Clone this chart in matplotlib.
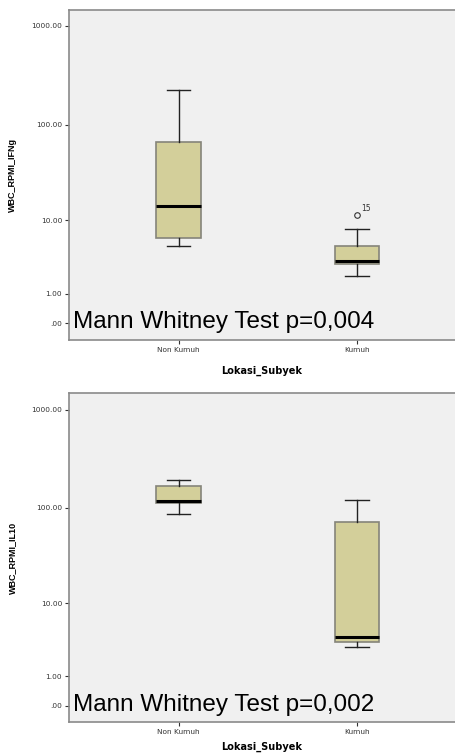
import numpy as np
import matplotlib
matplotlib.use("Agg")
import matplotlib.pyplot as plt

categories = ["Non Kumuh", "Kumuh"]

# Box statistics: (whisker_low, q1, median, q3, whisker_high)
ifng_stats = {
    "Non Kumuh": (4.98, 6.21, 14.27, 66.0, 223.4),
    "Kumuh": (2.0, 2.99, 3.25, 4.98, 7.94),
}
ifng_outliers = {"Non Kumuh": [], "Kumuh": [11.4]}
ifng_outlier_labels = {"Kumuh": ["15"]}

il10_stats = {
    "Non Kumuh": (87.5, 113.5, 117.2, 167.9, 191.9),
    "Kumuh": (2.99, 3.48, 4.0, 71.4, 121.7),
}
il10_outliers = {"Non Kumuh": [], "Kumuh": []}

ytick_values = [0, 1, 10, 100, 1000]
ytick_labels = [".00", "1.00", "10.00", "100.00", "1000.00"]

panel_ylabels = ["WBC_RPMI_IFNg", "WBC_RPMI_IL10"]
panel_texts = ["Mann Whitney Test p=0,004", "Mann Whitney Test p=0,002"]
xlabel = "Lokasi_Subyek"

BG = "#f0f0f0"
FILL = "#d3cf9a"
EDGE = "#85847a"
SPINE = "#8a8a8a"

fwd = lambda v: np.log10(1 + np.clip(v, -0.999, None))
inv = lambda t: 10 ** t - 1

fig = plt.figure(figsize=(4.55, 7.53), dpi=100)
plt.rcParams["font.family"] = ["Liberation Sans", "DejaVu Sans"]

axes_rects = [
    [69 / 455, 1 - 340 / 753, 1 - 69 / 455, 330 / 753],
    [69 / 455, 1 - 722.3 / 753, 1 - 69 / 455, 329 / 753],
]
ylims_t = [(-0.168, 3.161), (-0.165, 3.165)]
xlabel_pads = [9, 5]

def draw_panel(ax, stats, outliers, ylabel, text, outlier_labels=None,
               ylim_t=(-0.168, 3.161), xpad=9):
    ax.set_facecolor(BG)
    ax.set_yscale("function", functions=(fwd, inv))
    bxp = []
    for c in categories:
        wl, q1, med, q3, wh = stats[c]
        bxp.append(dict(label=c, whislo=wl, q1=q1, med=med, q3=q3, whishi=wh,
                        fliers=outliers.get(c, [])))
    ax.bxp(bxp, positions=range(len(categories)), widths=0.25, patch_artist=True,
           boxprops=dict(facecolor=FILL, edgecolor=EDGE, linewidth=1.2),
           medianprops=dict(color="black", linewidth=2.2),
           whiskerprops=dict(color="#222222", linewidth=1.0),
           capprops=dict(color="#222222", linewidth=1.0),
           capwidths=0.13,
           flierprops=dict(marker="o", markerfacecolor="none", markeredgecolor="#333333",
                           markersize=4, markeredgewidth=0.8))
    if outlier_labels:
        for c, labs in outlier_labels.items():
            i = categories.index(c)
            for v, lab in zip(outliers[c], labs):
                ax.annotate(lab, (i, v), xytext=(3, 3), textcoords="offset points",
                            fontsize=5.5, color="#333333", family="DejaVu Sans")
    ax.set_xlim(-0.615, 1.55)
    ax.set_ylim(inv(ylim_t[0]), inv(ylim_t[1]))
    ax.set_yticks(ytick_values)
    ax.set_yticklabels(ytick_labels, family="DejaVu Sans")
    ax.yaxis.set_minor_locator(matplotlib.ticker.NullLocator())
    ax.set_xticks(range(len(categories)))
    ax.set_xticklabels(categories, family="DejaVu Sans")
    ax.tick_params(axis="both", labelsize=5.3, colors="#333333", length=3, width=0.8,
                   labelcolor="#333333", pad=2)
    for s in ["left", "bottom", "top"]:
        ax.spines[s].set_color(SPINE)
        ax.spines[s].set_linewidth(1.2)
    ax.spines["right"].set_visible(False)
    ax.set_ylabel(ylabel, fontsize=6.5, fontweight="bold", labelpad=10)
    ax.set_xlabel(xlabel, fontsize=7, fontweight="bold", labelpad=xpad,
                  family="DejaVu Sans")
    ax.text(0.011, 0.035, text, transform=ax.transAxes, fontsize=17.5, color="black",
            ha="left", va="baseline")

ax1 = fig.add_axes(axes_rects[0])
draw_panel(ax1, ifng_stats, ifng_outliers, panel_ylabels[0], panel_texts[0],
           ifng_outlier_labels, ylims_t[0], xlabel_pads[0])
ax2 = fig.add_axes(axes_rects[1])
draw_panel(ax2, il10_stats, il10_outliers, panel_ylabels[1], panel_texts[1],
           None, ylims_t[1], xlabel_pads[1])

fig.savefig("out.png", dpi=100, facecolor="white")
